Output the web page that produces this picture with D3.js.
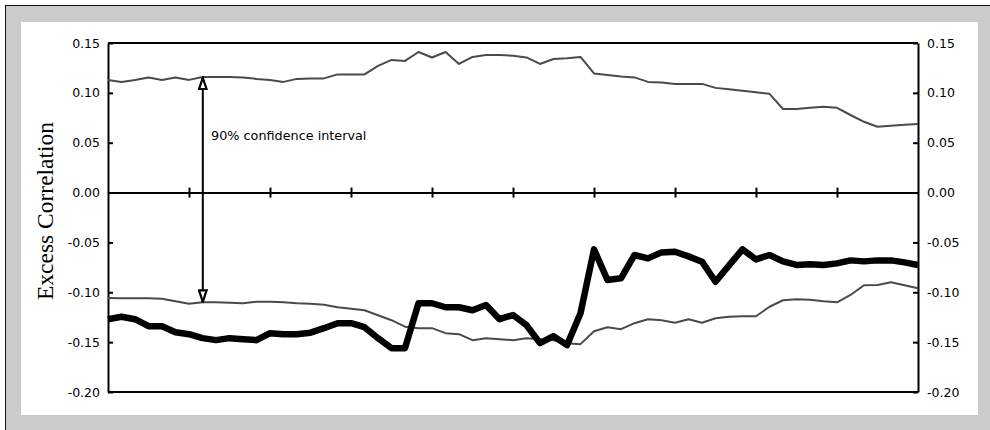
<!DOCTYPE html>
<html>
<head>
<meta charset="utf-8">
<script src="https://cdn.jsdelivr.net/npm/d3@7"></script>
<style>
  html, body { margin: 0; padding: 0; background: #ffffff; }
  svg { display: block; }
</style>
</head>
<body>
<svg id="chart" width="990" height="430"></svg>
<script>
// ---------- data ----------
const periods = d3.range(0, 61);            // 61 observations on a 0..60 scale
const xTickValues = [6, 12, 18, 24, 30, 36, 42, 48, 54];
const yTickValues = [0.15, 0.10, 0.05, 0.00, -0.05, -0.10, -0.15, -0.20];

const upperBand = [
  0.113, 0.111, 0.113, 0.1155, 0.113, 0.1155, 0.113, 0.116, 0.116, 0.116,
  0.1155, 0.114, 0.113, 0.111, 0.114, 0.1145, 0.1145, 0.1185, 0.1185, 0.1185,
  0.127, 0.133, 0.132, 0.141, 0.1355, 0.141, 0.129, 0.136, 0.138, 0.138,
  0.1373, 0.1355, 0.129, 0.134, 0.1347, 0.136, 0.1195, 0.118, 0.1165, 0.1155,
  0.111, 0.1105, 0.109, 0.109, 0.109, 0.105, 0.1035, 0.102, 0.1005, 0.099,
  0.0838, 0.0838, 0.085, 0.086, 0.085, 0.0778, 0.071, 0.066, 0.067, 0.068,
  0.0688
];
const lowerBand = [
  -0.1057, -0.106, -0.106, -0.106, -0.1065, -0.109, -0.1115, -0.110, -0.110, -0.1105,
  -0.111, -0.1095, -0.1095, -0.110, -0.111, -0.1115, -0.1125, -0.115, -0.1165, -0.118,
  -0.123, -0.128, -0.1345, -0.136, -0.136, -0.141, -0.142, -0.148, -0.146, -0.147,
  -0.148, -0.146, -0.147, -0.148, -0.151, -0.152, -0.139, -0.135, -0.137, -0.131,
  -0.127, -0.128, -0.1305, -0.127, -0.1305, -0.126, -0.1245, -0.124, -0.124, -0.1145,
  -0.108, -0.107, -0.1075, -0.109, -0.110, -0.1027, -0.093, -0.0927, -0.090, -0.093,
  -0.096
];
const excessCorr = [
  -0.127, -0.1245, -0.127, -0.134, -0.134, -0.140, -0.142, -0.146, -0.148, -0.146,
  -0.147, -0.148, -0.141, -0.142, -0.142, -0.1405, -0.136, -0.131, -0.131, -0.135,
  -0.146, -0.156, -0.156, -0.111, -0.111, -0.115, -0.115, -0.118, -0.1127, -0.127,
  -0.1228, -0.133, -0.151, -0.144, -0.153, -0.121, -0.057, -0.0877, -0.086, -0.0626,
  -0.066, -0.060, -0.0593, -0.064, -0.0693, -0.0894, -0.073, -0.057, -0.067, -0.0626,
  -0.069, -0.0726, -0.072, -0.0726, -0.071, -0.068, -0.069, -0.068, -0.068, -0.070,
  -0.0726
];
const annotationText = "90% confidence interval";
const annotationAt = { x: 7, from: 0.116, to: -0.1105 };
const yTitle = "Excess Correlation";

// ---------- layout ----------
const svg = d3.select("#chart");
const W = 990, H = 430;
const plot = { left: 108, right: 918, top: 43, bottom: 392 };

// frame
svg.append("rect").attr("x", 0).attr("y", 0).attr("width", W).attr("height", H).attr("fill", "#ffffff");
svg.append("rect").attr("x", 5.5).attr("y", 5.5).attr("width", W).attr("height", H)
  .attr("fill", "#cbcbcb").attr("stroke", "#111").attr("stroke-width", 1);
svg.append("rect").attr("x", 21).attr("y", 22).attr("width", 957).attr("height", 393).attr("fill", "#ffffff");

const x = d3.scaleLinear().domain([0, 60]).range([plot.left, plot.right]);
const y = d3.scaleLinear().domain([-0.20, 0.15]).range([plot.bottom, plot.top]);

const fmt = v => d3.format(".2f")(v).replace("\u2212", "-");
const labelFont = "'DejaVu Sans', Verdana, sans-serif";

// top & bottom borders of plot area
svg.append("line").attr("x1", plot.left).attr("x2", plot.right)
  .attr("y1", y(0.15)).attr("y2", y(0.15)).attr("stroke", "#000").attr("stroke-width", 2);
svg.append("line").attr("x1", plot.left).attr("x2", plot.right)
  .attr("y1", y(-0.20)).attr("y2", y(-0.20)).attr("stroke", "#000").attr("stroke-width", 2);

// left axis
const gL = svg.append("g").attr("transform", `translate(${plot.left},0)`)
  .call(d3.axisLeft(y).tickValues(yTickValues).tickFormat(fmt).tickSizeInner(-5).tickSizeOuter(0).tickPadding(8));
// right axis
const gR = svg.append("g").attr("transform", `translate(${plot.right},0)`)
  .call(d3.axisRight(y).tickValues(yTickValues).tickFormat(fmt).tickSizeInner(-5).tickSizeOuter(0).tickPadding(9));

[gL, gR].forEach(g => {
  g.select(".domain").attr("stroke", "#000").attr("stroke-width", 2);
  g.selectAll(".tick line").attr("stroke", "#000").attr("stroke-width", 2);
  g.selectAll(".tick text").attr("fill", "#000").style("font-family", labelFont).style("font-size", "12.5px");
});

// zero axis with crossing ticks
const gX = svg.append("g").attr("transform", `translate(0,${y(0)})`)
  .call(d3.axisBottom(x).tickValues(xTickValues).tickFormat("").tickSizeOuter(0));
gX.select(".domain").attr("stroke", "#000").attr("stroke-width", 2);
gX.selectAll(".tick line").attr("y1", -5).attr("y2", 5).attr("stroke", "#000").attr("stroke-width", 2);

// lines
const line = d3.line().x((d, i) => x(periods[i])).y(d => y(d));
svg.append("path").datum(upperBand).attr("d", line)
  .attr("fill", "none").attr("stroke", "#4a4a4a").attr("stroke-width", 2).attr("stroke-linejoin", "round");
svg.append("path").datum(lowerBand).attr("d", line)
  .attr("fill", "none").attr("stroke", "#4a4a4a").attr("stroke-width", 2).attr("stroke-linejoin", "round");
svg.append("path").datum(excessCorr).attr("d", line)
  .attr("fill", "none").attr("stroke", "#000").attr("stroke-width", 6.5).attr("stroke-linejoin", "round");

// annotation: double-headed arrow with hollow heads
const defs = svg.append("defs");
defs.append("marker").attr("id", "hollow").attr("viewBox", "0 0 14 10")
  .attr("refX", 13).attr("refY", 5).attr("markerWidth", 14).attr("markerHeight", 10)
  .attr("markerUnits", "userSpaceOnUse").attr("orient", "auto-start-reverse")
  .append("path").attr("d", "M1.2,1.2 L12.6,5 L1.2,8.8 Z")
  .attr("fill", "#fff").attr("stroke", "#000").attr("stroke-width", 2.2).attr("stroke-linejoin", "miter");
const ax = x(annotationAt.x) + 0.3;
svg.append("line").attr("x1", ax).attr("x2", ax)
  .attr("y1", y(annotationAt.from) + 0.5).attr("y2", y(annotationAt.to) - 0.5)
  .attr("stroke", "#000").attr("stroke-width", 2)
  .attr("marker-start", "url(#hollow)").attr("marker-end", "url(#hollow)");
svg.append("text").attr("x", 211).attr("y", 139.5)
  .style("font-family", labelFont).style("font-size", "12.8px").attr("fill", "#000")
  .text(annotationText);

// y title
svg.append("text")
  .attr("transform", `translate(53,${(117 + 305) / 2}) rotate(-90)`)
  .attr("text-anchor", "middle")
  .style("font-family", "'Liberation Serif', 'Times New Roman', serif")
  .style("font-size", "23.5px").attr("fill", "#000")
  .text(yTitle);
</script>
</body>
</html>
